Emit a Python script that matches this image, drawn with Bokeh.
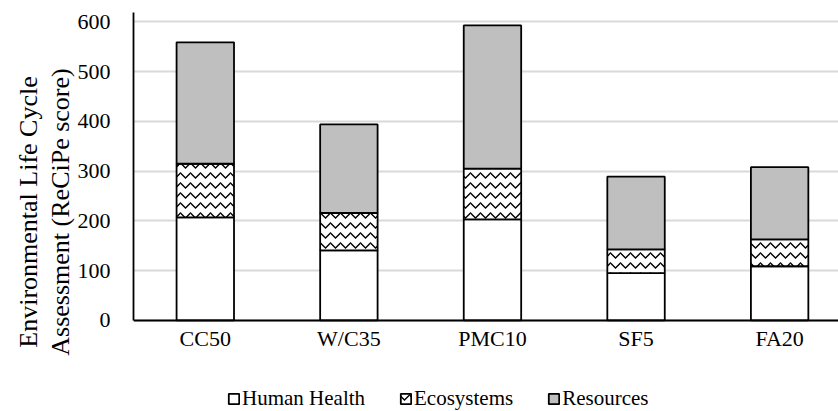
from bokeh.plotting import figure
from bokeh.models import ColumnDataSource, Range1d, FixedTicker, Legend, LegendItem
from bokeh.transform import stack
from bokeh.embed import file_html
from bokeh.resources import INLINE

categories = ["CC50", "W/C35", "PMC10", "SF5", "FA20"]
human_health = [207, 141, 203, 95, 109]
ecosystems = [108, 75, 102, 48, 54]
resources = [244, 178, 288, 146, 145]
y_ticks = [0, 100, 200, 300, 400, 500, 600]

src = ColumnDataSource(dict(
    x=list(range(len(categories))),
    hh=human_health, eco=ecosystems, res=resources,
))

FONT = "Liberation Serif"

p = figure(width=838, height=411, output_backend="svg", toolbar_location=None,
           x_range=Range1d(-0.5, 4.41), y_range=Range1d(-183, 619),
           min_border_top=12, min_border_right=0, min_border_left=133,
           min_border_bottom=0)
p.outline_line_color = None
p.background_fill_color = "white"

LW = 1.8
r1 = p.vbar(x="x", bottom=0, top=stack("hh"), width=0.4, source=src,
            fill_color="white", line_color="black", line_width=LW)
r2 = p.vbar(x="x", bottom=stack("hh"), top=stack("hh", "eco"), width=0.4, source=src,
            fill_color="white", line_color="black", line_width=LW,
            hatch_pattern="horizontal_wave", hatch_color="black", hatch_scale=10,
            hatch_weight=1.3)
r3 = p.vbar(x="x", bottom=stack("hh", "eco"), top=stack("hh", "eco", "res"), width=0.4,
            source=src, fill_color="#bfbfbf", line_color="black", line_width=LW)

# x axis drawn at y = 0 inside the frame
p.xaxis.fixed_location = 0
p.xaxis.ticker = FixedTicker(ticks=list(range(len(categories))))
p.xaxis.major_label_overrides = {i: c for i, c in enumerate(categories)}
p.xaxis.major_tick_line_color = None
p.xaxis.minor_tick_line_color = None
p.xaxis.axis_line_color = "black"
p.xaxis.axis_line_width = 1.8
p.xaxis.major_label_text_font = FONT
p.xaxis.major_label_text_font_size = "22px"
p.xaxis.major_label_text_color = "black"
p.xaxis.major_label_standoff = 0

p.yaxis.ticker = FixedTicker(ticks=y_ticks)
p.yaxis.bounds = (0, 619)
p.yaxis.major_tick_line_color = None
p.yaxis.minor_tick_line_color = None
p.yaxis.axis_line_color = "black"
p.yaxis.axis_line_width = 1.8
p.yaxis.major_label_text_font = FONT
p.yaxis.major_label_text_font_size = "22px"
p.yaxis.major_label_text_color = "black"
p.yaxis.major_label_standoff = 17
p.yaxis.axis_label = "Environmental Life Cycle\nAssessment (ReCiPe score)"
p.yaxis.axis_label_text_font = FONT
p.yaxis.axis_label_text_font_size = "26px"
p.yaxis.axis_label_text_font_style = "normal"
p.yaxis.axis_label_text_color = "black"
p.yaxis.axis_label_text_line_height = 1.1
p.yaxis.axis_label_standoff = 0

p.xgrid.grid_line_color = None
p.ygrid.ticker = FixedTicker(ticks=y_ticks)
p.ygrid.grid_line_color = "#d9d9d9"
p.ygrid.grid_line_width = 1.8

legend = Legend(items=[
    LegendItem(label="Human Health", renderers=[r1]),
    LegendItem(label="Ecosystems", renderers=[r2]),
    LegendItem(label="Resources", renderers=[r3]),
], orientation="horizontal", location=(94, 0))
legend.label_text_font = FONT
legend.label_text_font_size = "21px"
legend.label_text_color = "black"
legend.glyph_width = 13
legend.glyph_height = 13
legend.label_standoff = 2
legend.spacing = 34
legend.border_line_color = None
legend.background_fill_alpha = 0
legend.margin = 0
legend.padding = 0
p.add_layout(legend)

open("out.html", "w").write(file_html(p, INLINE))
